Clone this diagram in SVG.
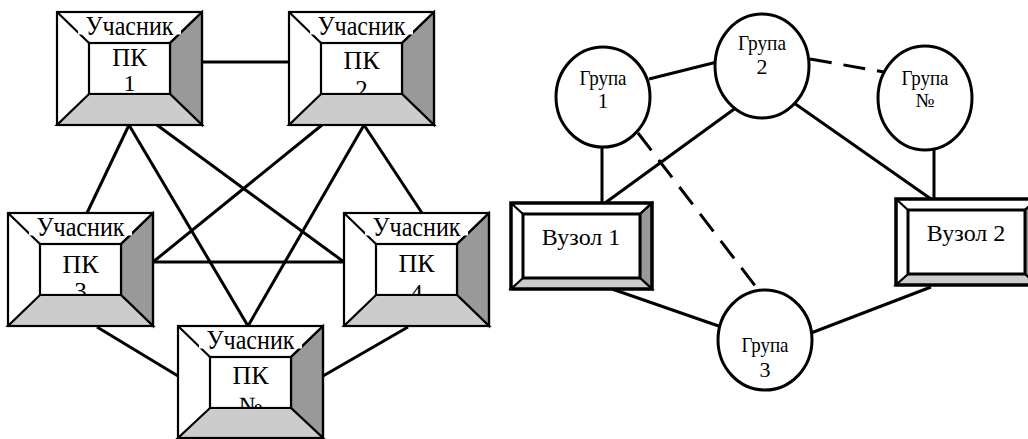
<svg xmlns="http://www.w3.org/2000/svg" width="1028" height="439" viewBox="0 0 1028 439">
<defs>
<style>
.bg{fill:#fff}
.ln{stroke:#000;stroke-width:2.2;fill:none}
.dk{fill:#999;stroke:#000;stroke-width:2.2}
.lt{fill:#ccc;stroke:#000;stroke-width:2.2}
.in{fill:#fff;stroke:#000;stroke-width:2.2}
.t{font-family:"Liberation Serif","Times New Roman",serif;fill:#000;text-anchor:middle}
.c{stroke:#000;stroke-width:3;fill:none}
.d{stroke:#000;stroke-width:3;fill:none;stroke-dasharray:22 12}
.el{fill:#fff;stroke:#000;stroke-width:3}
.ob{fill:none;stroke:#000;stroke-width:3.5}
</style>
</defs>
<g id="connectors">
<line class="c" x1="202" y1="62" x2="289" y2="62"/>
<line class="c" x1="129" y1="125" x2="87" y2="213"/>
<line class="c" x1="129" y1="125" x2="248" y2="326"/>
<line class="c" x1="157" y1="125" x2="344" y2="262"/>
<line class="c" x1="322" y1="125" x2="153" y2="262"/>
<line class="c" x1="364" y1="125" x2="422" y2="213"/>
<line class="c" x1="364" y1="125" x2="248" y2="326"/>
<line class="c" x1="153" y1="262" x2="344" y2="262"/>
<line class="c" x1="97" y1="327" x2="178" y2="376"/>
<line class="c" x1="408" y1="327" x2="323" y2="376"/>
<line class="c" x1="649" y1="79" x2="717" y2="62"/>
<line class="d" x1="810" y1="59" x2="884" y2="72"/>
<line class="c" x1="794" y1="103" x2="931" y2="199"/>
<line class="c" x1="934" y1="148" x2="934" y2="199"/>
<line class="c" x1="737" y1="107" x2="605" y2="203"/>
<line class="c" x1="602" y1="147" x2="602" y2="203"/>
<line class="d" x1="638" y1="133" x2="766" y2="300"/>
<line class="c" x1="612" y1="289" x2="733" y2="331"/>
<line class="c" x1="931" y1="287" x2="811" y2="333"/>
</g>
<g id="pk1" transform="translate(57,12)">
<rect class="bg" width="145" height="113"/>
<polygon class="dk" points="145,0 145,113 113,82 113,31"/>
<line class="ln" x1="0" y1="0" x2="32" y2="31"/>
<line class="ln" x1="145" y1="0" x2="113" y2="31"/>
<rect class="in" x="32" y="31" width="81" height="51"/>
<text class="t" x="72.5" y="54" font-size="25">ПК</text>
<text class="t" x="72.5" y="79" font-size="24">1</text>
<polygon class="lt" points="0,113 145,113 113,82 32,82"/>
<rect class="bg" x="21" y="1.5" width="103" height="21"/>
<text class="t" x="72.5" y="23" font-size="27" textLength="88" lengthAdjust="spacingAndGlyphs">Учасник</text>
<rect class="ln" width="145" height="113"/>
</g>
<g id="pk2" transform="translate(289,12)">
<rect class="bg" width="145" height="113"/>
<polygon class="dk" points="145,0 145,113 113,82 113,31"/>
<line class="ln" x1="0" y1="0" x2="32" y2="31"/>
<line class="ln" x1="145" y1="0" x2="113" y2="31"/>
<rect class="in" x="32" y="31" width="81" height="51"/>
<text class="t" x="72.5" y="57" font-size="26">ПК</text>
<text class="t" x="72.5" y="86" font-size="25">2</text>
<polygon class="lt" points="0,113 145,113 113,82 32,82"/>
<rect class="bg" x="21" y="1.5" width="103" height="21"/>
<text class="t" x="72.5" y="23" font-size="27" textLength="88" lengthAdjust="spacingAndGlyphs">Учасник</text>
<rect class="ln" width="145" height="113"/>
</g>
<g id="pk3" transform="translate(8,213)">
<rect class="bg" width="145" height="113"/>
<polygon class="dk" points="145,0 145,113 113,82 113,31"/>
<line class="ln" x1="0" y1="0" x2="32" y2="31"/>
<line class="ln" x1="145" y1="0" x2="113" y2="31"/>
<rect class="in" x="32" y="31" width="81" height="51"/>
<text class="t" x="72.5" y="60" font-size="26">ПК</text>
<text class="t" x="72.5" y="87" font-size="25">3</text>
<polygon class="lt" points="0,113 145,113 113,82 32,82"/>
<rect class="bg" x="21" y="1.5" width="103" height="21"/>
<text class="t" x="72.5" y="23" font-size="27" textLength="88" lengthAdjust="spacingAndGlyphs">Учасник</text>
<rect class="ln" width="145" height="113"/>
</g>
<g id="pk4" transform="translate(344,213)">
<rect class="bg" width="145" height="113"/>
<polygon class="dk" points="145,0 145,113 113,82 113,31"/>
<line class="ln" x1="0" y1="0" x2="32" y2="31"/>
<line class="ln" x1="145" y1="0" x2="113" y2="31"/>
<rect class="in" x="32" y="31" width="81" height="51"/>
<text class="t" x="72.5" y="59" font-size="26">ПК</text>
<text class="t" x="72.5" y="89" font-size="25">4</text>
<polygon class="lt" points="0,113 145,113 113,82 32,82"/>
<rect class="bg" x="21" y="1.5" width="103" height="21"/>
<text class="t" x="72.5" y="23" font-size="27" textLength="88" lengthAdjust="spacingAndGlyphs">Учасник</text>
<rect class="ln" width="145" height="113"/>
</g>
<g id="pkn" transform="translate(178,326)">
<rect class="bg" width="145" height="112"/>
<polygon class="dk" points="145,0 145,112 113,82 113,31"/>
<line class="ln" x1="0" y1="0" x2="32" y2="31"/>
<line class="ln" x1="145" y1="0" x2="113" y2="31"/>
<rect class="in" x="32" y="31" width="81" height="51"/>
<text class="t" x="72.5" y="58" font-size="26">ПК</text>
<text class="t" x="72.5" y="88" font-size="25">№</text>
<polygon class="lt" points="0,112 145,112 113,82 32,82"/>
<rect class="bg" x="21" y="1.5" width="103" height="21"/>
<text class="t" x="72.5" y="23" font-size="27" textLength="88" lengthAdjust="spacingAndGlyphs">Учасник</text>
<rect class="ln" width="145" height="112"/>
</g>
<g id="g1">
<ellipse class="el" cx="603" cy="97" rx="47" ry="50"/>
<text class="t" x="603" y="85" font-size="21" textLength="47" lengthAdjust="spacingAndGlyphs">Група</text>
<text class="t" x="603" y="108" font-size="21">1</text>
</g>
<g id="g2">
<ellipse class="el" cx="762" cy="66" rx="47" ry="52"/>
<text class="t" x="762" y="50" font-size="22" textLength="48" lengthAdjust="spacingAndGlyphs">Група</text>
<text class="t" x="762" y="74" font-size="22">2</text>
</g>
<g id="gn">
<ellipse class="el" cx="925" cy="98" rx="47" ry="52"/>
<text class="t" x="925" y="85" font-size="22" textLength="47" lengthAdjust="spacingAndGlyphs">Група</text>
<text class="t" x="925" y="107" font-size="20">№</text>
</g>
<g id="g3">
<ellipse class="el" cx="765" cy="340" rx="47" ry="50"/>
<text class="t" x="765" y="352" font-size="22" textLength="47" lengthAdjust="spacingAndGlyphs">Група</text>
<text class="t" x="765" y="377" font-size="22">3</text>
</g>
<g id="node1">
<rect class="bg" x="511" y="203" width="141" height="86"/>
<polygon class="dk" points="652,203 652,289 640,278 640,214"/>
<polygon class="lt" points="511,289 652,289 640,278 523,278"/>
<line class="ln" x1="511" y1="203" x2="523" y2="214"/>
<line class="ln" x1="652" y1="203" x2="640" y2="214"/>
<rect class="in" x="523" y="214" width="117" height="64" style="stroke-width:3"/>
<rect class="ob" x="511" y="203" width="141" height="86"/>
<text class="t" x="581" y="245" font-size="24">Вузол 1</text>
</g>
<g id="node2">
<rect class="bg" x="896" y="199" width="141" height="86"/>
<polygon class="dk" points="1037,199 1037,285 1025,274 1025,210"/>
<polygon class="lt" points="896,285 1037,285 1025,274 908,274"/>
<line class="ln" x1="896" y1="199" x2="908" y2="210"/>
<line class="ln" x1="1037" y1="199" x2="1025" y2="210"/>
<rect class="in" x="908" y="210" width="117" height="64" style="stroke-width:3"/>
<rect class="ob" x="896" y="199" width="141" height="86"/>
<text class="t" x="966" y="241" font-size="24">Вузол 2</text>
</g>
</svg>
